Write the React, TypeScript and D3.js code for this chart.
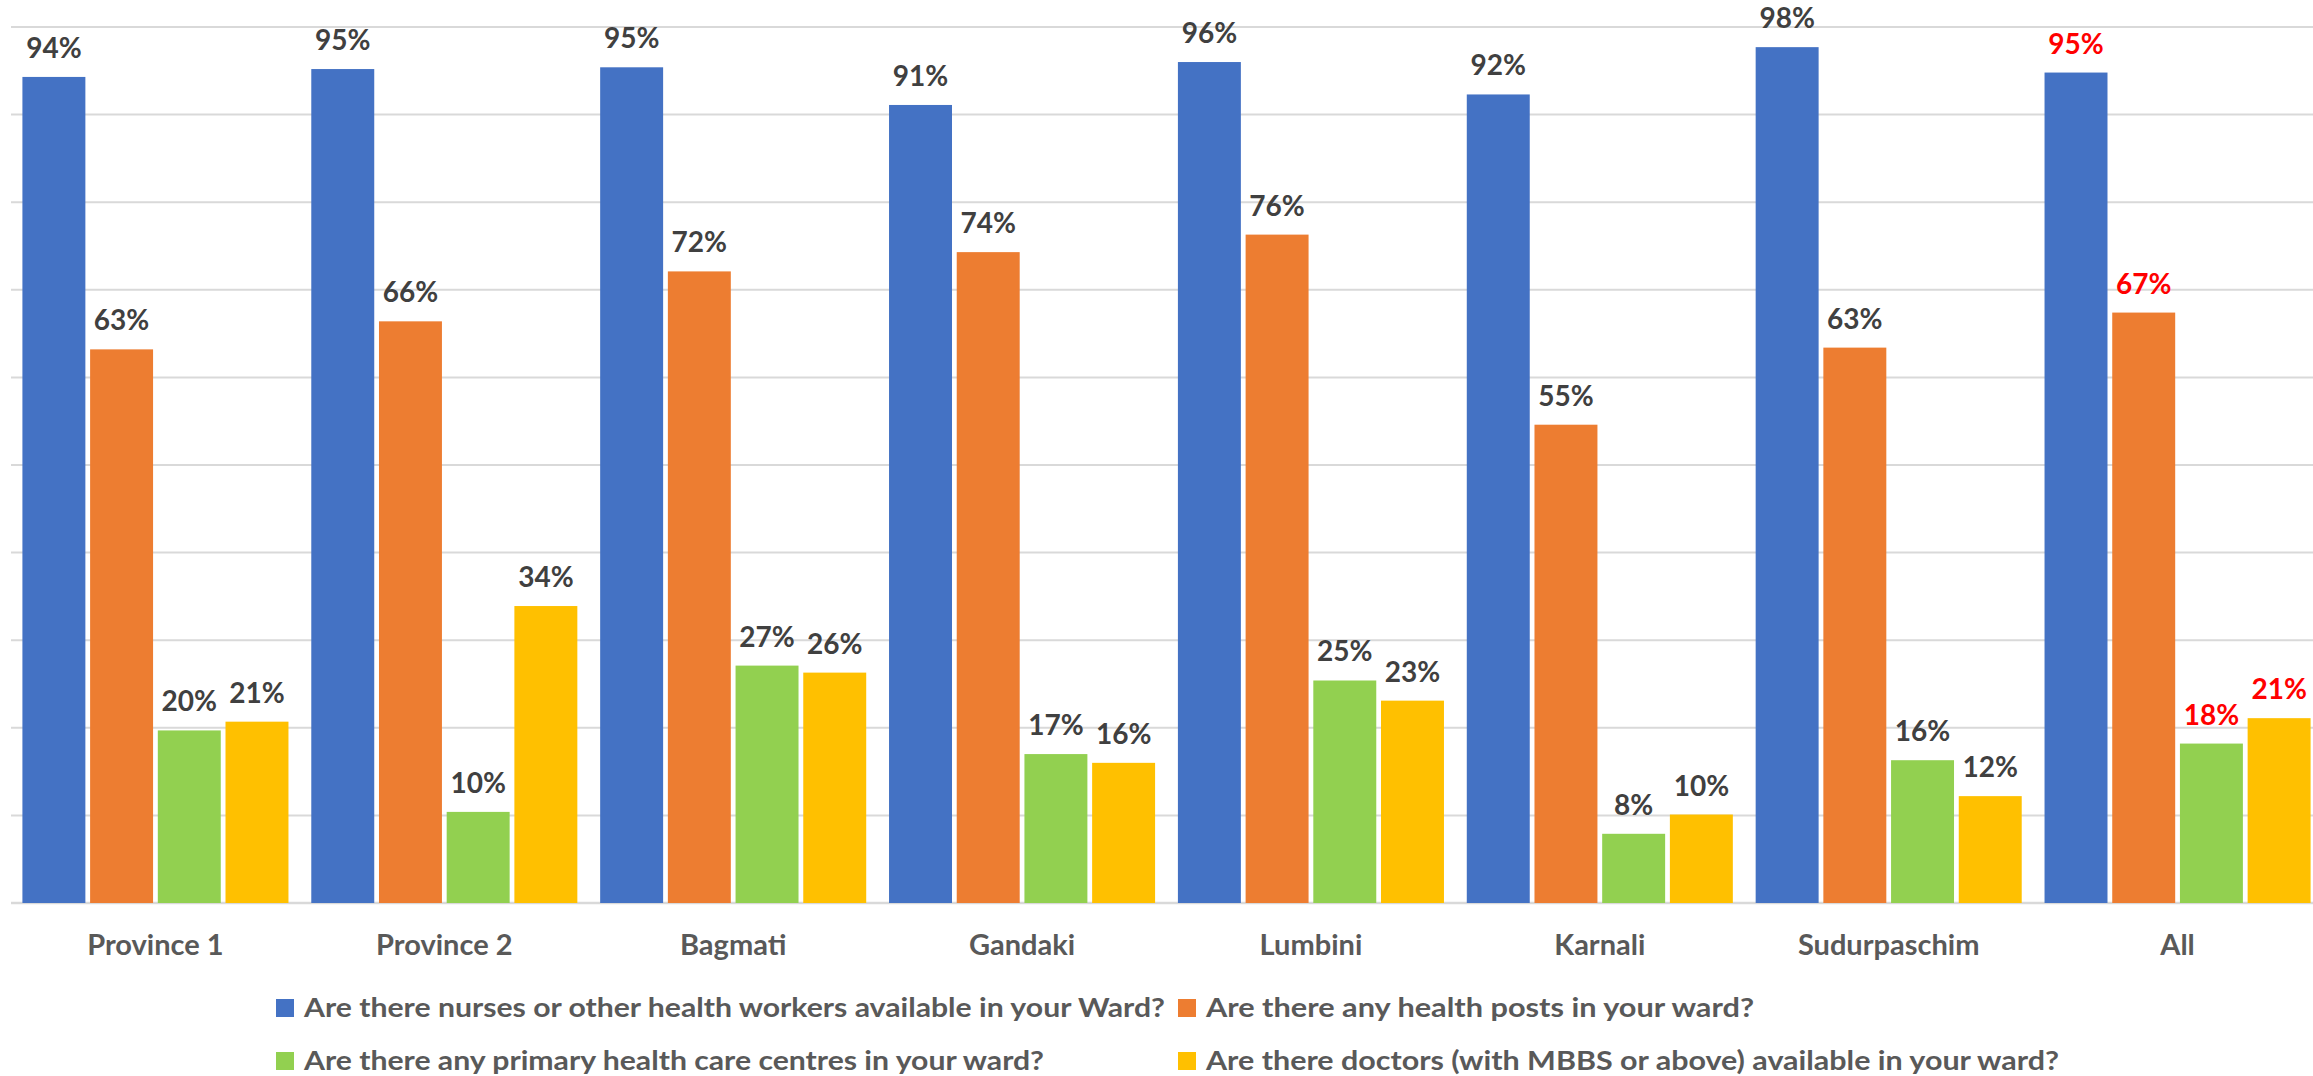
import React from "react";
import * as d3 from "d3";

const categories = ["Province 1", "Province 2", "Bagmati", "Gandaki", "Lumbini", "Karnali", "Sudurpaschim", "All"];
const seriesNames = [
  "Are there nurses or other health workers available in your Ward?",
  "Are there any health posts in your ward?",
  "Are there any primary health care centres in your ward?",
  "Are there doctors (with MBBS or above) available in your ward?",
];
const nurses = [94.3, 95.2, 95.4, 91.1, 96.0, 92.3, 97.7, 94.8];
const healthPosts = [63.2, 66.4, 72.1, 74.3, 76.3, 54.6, 63.4, 67.4];
const primaryCare = [19.7, 10.4, 27.1, 17.0, 25.4, 7.9, 16.3, 18.2];
const doctors = [20.7, 33.9, 26.3, 16.0, 23.1, 10.1, 12.2, 21.1];
const seriesValues = [nurses, healthPosts, primaryCare, doctors];
const colors = ["#4472C4", "#ED7D31", "#92D050", "#FFC000"];
const yTicks = [0, 10, 20, 30, 40, 50, 60, 70, 80, 90, 100];

const W = 2313;
const H = 1076;
const FONT = "Lato, 'Open Sans', sans-serif";

export default function App() {
  const x0 = d3.scaleBand<string>().domain(categories).range([11, 2322]).paddingInner(0.079).paddingOuter(0.0395);
  const x1 = d3.scaleBand<number>().domain([0, 1, 2, 3]).range([0, x0.bandwidth()]).paddingInner(0.07).paddingOuter(0);
  const y = d3.scaleLinear().domain([0, 100]).range([903, 27]);

  const legendItems = [
    { i: 0, x: 276, y: 1008, len: 861 },
    { i: 1, x: 1178, y: 1008, len: 548 },
    { i: 2, x: 276, y: 1061, len: 740 },
    { i: 3, x: 1178, y: 1061, len: 853 },
  ];

  return (
    <svg width={W} height={H} style={{ position: "absolute", left: 0, top: 0, display: "block", background: "#fff" }}>
      <rect x={0} y={0} width={W} height={H} fill="#fff" />
      {yTicks.map((t) => (
        <line key={t} x1={11} x2={W} y1={y(t)} y2={y(t)} stroke="#D9D9D9" strokeWidth={t === 0 ? 2.5 : 2} />
      ))}
      {categories.map((c, ci) => (
        <g key={c}>
          {seriesValues.map((vals, si) => {
            const bx = (x0(c) as number) + (x1(si) as number);
            const bw = x1.bandwidth();
            const v = vals[ci];
            const isAll = c === "All";
            return (
              <g key={si}>
                <rect x={bx} y={y(v)} width={bw} height={y(0) - y(v)} fill={colors[si]} />
                <text
                  x={bx + bw / 2}
                  y={y(v) - 19}
                  textAnchor="middle"
                  fontFamily={FONT}
                  fontWeight={700}
                  fontSize={28}
                  fill={isAll ? "#FF0000" : "#404040"}
                >
                  {Math.round(v)}%
                </text>
              </g>
            );
          })}
          <text
            x={(x0(c) as number) + x0.bandwidth() / 2}
            y={955}
            textAnchor="middle"
            fontFamily={FONT}
            fontWeight={700}
            fontSize={29}
            fill="#595959"
          >
            {c}
          </text>
        </g>
      ))}
      {legendItems.map((l) => (
        <g key={l.i}>
          <rect x={l.x} y={l.y - 9} width={18} height={18} fill={colors[l.i]} />
          <text
            x={l.x + 28}
            y={l.y + 9}
            fontFamily={FONT}
            fontWeight={700}
            fontSize={27}
            fill="#595959"
            textLength={l.len}
            lengthAdjust="spacingAndGlyphs"
          >
            {seriesNames[l.i]}
          </text>
        </g>
      ))}
    </svg>
  );
}
